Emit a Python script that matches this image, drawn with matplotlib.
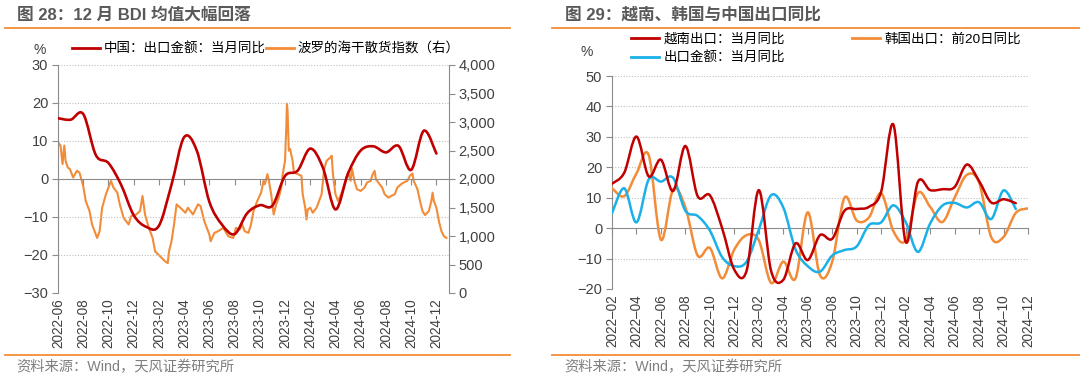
import numpy as np
import matplotlib
matplotlib.use("Agg")
import matplotlib.pyplot as plt
from matplotlib.path import Path
from matplotlib.patches import PathPatch
from matplotlib.lines import Line2D
from matplotlib.ticker import FuncFormatter

plt.rcParams['font.family'] = ['Liberation Sans', 'Noto Sans CJK SC', 'DejaVu Sans']
plt.rcParams['axes.unicode_minus'] = True

# ---------------- Data: left panel (Fig 28) ----------------
left_title = "图 28：12 月 BDI 均值大幅回落"
left_series_names = ["中国：出口金额：当月同比", "波罗的海干散货指数（右）"]
left_xticklabels = ["2022-06", "2022-08", "2022-10", "2022-12", "2023-02", "2023-04",
                    "2023-06", "2023-08", "2023-10", "2023-12", "2024-02", "2024-04",
                    "2024-06", "2024-08", "2024-10", "2024-12"]
# China export YoY (%), monthly, position = months after 2022-06
china_exp_month = list(range(31))
china_exp_yoy = [16.0, 15.6, 17.1, 6.3, 4.2, -1.5, -9.5, -12.6, -12.3, -1.5,
                 11.0, 7.5, -6.0, -12.0, -14.5, -9.0, -6.9, -7.0, 0.8, 2.2,
                 8.0, 3.0, -8.0, 1.5, 7.5, 8.6, 7.0, 8.7, 2.4, 12.7, 6.7]
# Baltic Dry Index (right axis), position = months after 2022-06
bdi_month = [0, 0.2, 0.36, 0.5, 0.6, 0.77, 0.95, 1.2, 1.5, 1.7, 2.0, 2.2, 2.5, 2.7,
             3.1, 3.3, 3.5, 3.8, 3.9, 4.2, 4.4, 4.7, 4.9, 5.2, 5.6, 5.8, 6.2, 6.5,
             6.7, 6.9, 7.2, 7.5, 7.7, 8.1, 8.5, 8.7, 8.8, 9.0, 9.2, 9.4, 9.7, 10.1,
             10.3, 10.7, 11.1, 11.3, 11.6, 12.0, 12.1, 12.4, 12.7, 13.1, 13.5, 13.9,
             14.1, 14.4, 14.6, 14.8, 15.1, 15.3, 15.5, 15.8, 16.1, 16.3, 16.4, 16.6,
             16.7, 16.9, 17.1, 17.3, 17.5, 17.7, 17.8, 18.0, 18.1, 18.15, 18.2, 18.3,
             18.4, 18.6, 18.7, 19.0, 19.3, 19.4, 19.6, 19.7, 19.8, 20.0, 20.2, 20.5,
             20.7, 20.9, 21.1, 21.3, 21.6, 21.7, 21.8, 22.0, 22.2, 22.5, 22.7, 23.0,
             23.2, 23.3, 23.5, 23.7, 24.0, 24.3, 24.5, 24.8, 24.9, 25.1, 25.2, 25.4,
             25.7, 25.9, 26.2, 26.4, 26.7, 26.9, 27.2, 27.4, 27.7, 27.9, 28.1, 28.2,
             28.5, 28.7, 28.9, 29.1, 29.4, 29.6, 29.7, 29.8, 30.0, 30.2, 30.4, 30.6,
             30.8]
bdi_value = [2645, 2586, 2262, 2586, 2321, 2203, 2173, 2026, 2144, 2114, 1879, 1614,
             1437, 1202, 966, 1084, 1496, 1732, 1791, 1967, 1849, 1761, 1555, 1319,
             1202, 1349, 1378, 1437, 1702, 1378, 1143, 966, 730, 642, 554, 524, 730,
             907, 1202, 1555, 1496, 1408, 1496, 1378, 1555, 1526, 1260, 1025, 907,
             1054, 1084, 1143, 995, 966,
             1143, 1113, 1202, 1084, 1054, 1202, 1437, 1614, 1761, 1967, 1908, 2085,
             1997, 1732, 1378, 1555, 1673, 1849, 2056, 2321, 2910, 3322, 3204, 2497,
             2527, 2321, 2115, 2085, 2056, 1732, 1496, 1290, 1467, 1496, 1408, 1496,
             1614, 1732, 2173, 2321, 2380, 2409, 2085, 1732, 1614, 1761, 1908, 2115,
             1967, 2191, 1967, 1820, 1791, 1849, 1938, 1967, 2056, 2144, 1997, 1938,
             1849, 1732, 1673, 1702, 1732, 1849, 1908, 1938, 1967, 2056, 2097, 1967,
             1820, 1614, 1437, 1367, 1437, 1614, 1761, 1614, 1496, 1260, 1084, 995,
             966]

# ---------------- Data: right panel (Fig 29) ----------------
right_title = "图 29：越南、韩国与中国出口同比"
right_series_names = ["越南出口：当月同比", "出口金额：当月同比", "韩国出口：前20日同比"]
right_xticklabels = ["2022–02", "2022–04", "2022–06", "2022–08", "2022–10", "2022–12",
                     "2023–02", "2023–04", "2023–06", "2023–08", "2023–10", "2023–12",
                     "2024–02", "2024–04", "2024–06", "2024–08", "2024–10", "2024–12"]
# months after 2022-02
vietnam_month = list(range(34))
vietnam_yoy = [14.6, 18.2, 30.1, 17.0, 22.5, 12.2, 27.0, 10.5, 10.8, 0.0,
               -13.7, -14.0, 12.5, -14.0, -17.0, -5.0, -10.5, -2.3, -3.5, 5.7,
               6.3, 7.0, 12.0, 34.0, -4.5, 15.2, 12.5, 12.8, 13.5, 20.9,
               15.5, 8.4, 9.5, 8.2]
korea_month = list(range(35))
korea_yoy = [13.1, 10.5, 18.0, 24.0, -3.8, 12.8, 6.8, -9.0, -6.5, -16.5,
             -7.0, -2.3, -4.0, -18.0, -11.0, -16.5, 5.2, -15.5, -11.0, 10.0,
             2.5, 3.5, 11.5, -1.0, -4.0, 11.5, 7.0, 2.0, 10.0, 17.5,
             15.0, -3.0, -2.9, 5.0, 6.5]
china_month = list(range(34))
china_yoy = [4.9, 13.1, 1.9, 16.0, 15.3, 16.5, 5.7, 4.0, -0.8, -9.5,
             -12.5, -11.0, -0.5, 10.8, 6.8, -7.0, -12.5, -14.3, -9.0, -7.2,
             -6.0, 1.0, 1.9, 7.5, 2.0, -7.8, 1.5, 7.4, 8.3, 6.8,
             8.5, 3.0, 12.4, 6.3]

RED = '#C00000'
ORANGE = '#F28C38'
BLUE = '#1AB0E8'
GRID = '#BFBFBF'
AXC = '#8C8C8C'
TXT = '#404040'


def smooth_path(x, y):
    pts = np.column_stack([np.asarray(x, float), np.asarray(y, float)])
    n = len(pts)
    verts = [pts[0]]
    codes = [Path.MOVETO]
    for i in range(n - 1):
        p0 = pts[i - 1] if i > 0 else pts[i]
        p1 = pts[i]
        p2 = pts[i + 1]
        p3 = pts[i + 2] if i + 2 < n else pts[i + 1]
        verts += [p1 + (p2 - p0) / 6.0, p2 - (p3 - p1) / 6.0, p2]
        codes += [Path.CURVE4] * 3
    return Path(verts, codes)


def add_smooth(ax, x, y, color, lw):
    ax.add_patch(PathPatch(smooth_path(x, y), fill=False, edgecolor=color, lw=lw,
                           transform=ax.transData, capstyle='round',
                           joinstyle='round', zorder=3))


def style_axis(ax, ylo, yhi, step, xlabels, xmax):
    ax.set_ylim(ylo, yhi)
    ax.set_xlim(0, xmax)
    ax.set_yticks(np.arange(ylo, yhi + 0.1, step))
    for y in np.arange(ylo, yhi + 0.1, step):
        if y != 0:
            ax.axhline(y, color=GRID, lw=0.8, ls=(0, (1, 1.5)), zorder=1)
    for s in ['top', 'right']:
        ax.spines[s].set_visible(False)
    ax.spines['left'].set_color(AXC)
    ax.spines['bottom'].set_color(AXC)
    ax.spines['bottom'].set_position(('data', 0))
    ax.spines['bottom'].set_zorder(2)
    ticks = np.arange(0, 2 * len(xlabels), 2)
    ax.set_xticks(ticks)
    ax.tick_params(axis='x', direction='out', length=4, color=AXC, labelbottom=False)
    ax.tick_params(axis='y', direction='out', length=4, color=AXC, labelsize=10.5,
                   labelcolor=TXT, pad=3)
    sec = ax.secondary_xaxis(0.0)
    sec.set_xticks(ticks, xlabels)
    sec.tick_params(length=0, rotation=90, labelsize=9.8, labelcolor=TXT, pad=4)
    sec.spines['bottom'].set_visible(False)


fig = plt.figure(figsize=(10.8, 3.8), dpi=100)
W, H = 1080.0, 380.0


def fx(px):
    return px / W


def fy(py):
    return 1 - py / H


# ---------- Left panel ----------
axL = fig.add_axes([fx(58), fy(293), fx(449) - fx(58), fy(65) - fy(293)])
style_axis(axL, -30, 30, 10, left_xticklabels, 31)
axL2 = axL.twinx()
axL2.set_ylim(0, 4000)
axL2.set_yticks(np.arange(0, 4001, 500))
axL2.yaxis.set_major_formatter(FuncFormatter(lambda v, p: f"{int(v):,}"))
axL2.tick_params(axis='y', direction='out', length=4, color=AXC, labelsize=10.5,
                 labelcolor=TXT, pad=3)
for s in ['top', 'left', 'bottom']:
    axL2.spines[s].set_visible(False)
axL2.spines['right'].set_color(AXC)
axL2.plot(bdi_month, bdi_value, color=ORANGE, lw=1.5, solid_joinstyle='round')
axL.set_zorder(axL2.get_zorder() + 1)
axL.patch.set_visible(False)
add_smooth(axL, china_exp_month, china_exp_yoy, RED, 1.9)

hL = [Line2D([], [], color=RED, lw=2), Line2D([], [], color=ORANGE, lw=2)]
fig.legend(hL, left_series_names, loc='center left', bbox_to_anchor=(fx(72), fy(49)),
           ncol=2, frameon=False, fontsize=9.7, handlelength=2.1, handletextpad=0.25,
           columnspacing=0.0, borderaxespad=0, borderpad=0)
fig.text(fx(40), fy(50), "%", fontsize=10, color=TXT, ha='center', va='center')

# ---------- Right panel ----------
axR = fig.add_axes([fx(612), fy(289), fx(1028) - fx(612), fy(76) - fy(289)])
style_axis(axR, -20, 50, 10, right_xticklabels, 34)
add_smooth(axR, korea_month, korea_yoy, ORANGE, 1.8)
add_smooth(axR, china_month, china_yoy, BLUE, 1.8)
add_smooth(axR, vietnam_month, vietnam_yoy, RED, 1.8)

hR = [Line2D([], [], color=RED, lw=2), Line2D([], [], color=BLUE, lw=2),
      Line2D([], [], color=ORANGE, lw=2)]
fig.legend(hR, right_series_names, loc='upper left', bbox_to_anchor=(fx(631), fy(33)),
           ncol=2, frameon=False, fontsize=9.7, handlelength=2.1, handletextpad=0.35,
           columnspacing=4.9, labelspacing=0.45, borderaxespad=0, borderpad=0)
fig.text(fx(587), fy(52), "%", fontsize=10, color=TXT, ha='center', va='center')

# ---------- Titles, rules, sources ----------
for x0, x1, tx, title in [(5, 510, 17, left_title), (552, 1080, 565, right_title)]:
    fig.text(fx(tx), fy(15), title, fontsize=12, fontweight='bold', color='#595959',
             ha='left', va='center')
    fig.add_artist(Line2D([fx(x0), fx(x1)], [fy(28), fy(28)], color=ORANGE, lw=1.3))
    fig.add_artist(Line2D([fx(x0), fx(x1)], [fy(355), fy(355)], color=ORANGE, lw=1.3))
    fig.text(fx(tx - 1), fy(367), "资料来源：Wind，天风证券研究所", fontsize=10.3,
             color='#7F7F7F', ha='left', va='center')

fig.savefig("out.png", dpi=100)
